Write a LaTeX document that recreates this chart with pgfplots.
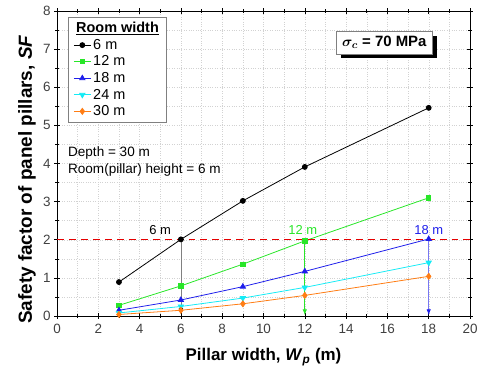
\documentclass[border=0pt]{standalone}
\usepackage{pgfplots}
\pgfplotsset{compat=1.18}
\usepackage{bm}
\usepackage{fontspec}
\setmainfont{Liberation Sans}
\usetikzlibrary{arrows.meta,shadows}
\definecolor{cgreen}{RGB}{40,230,40}
\definecolor{cblue}{RGB}{30,30,235}
\definecolor{ccyan}{RGB}{20,235,245}
\definecolor{corange}{RGB}{255,125,20}
\begin{document}
\begin{tikzpicture}
\begin{axis}[
  scale only axis, width=413bp, height=305bp,
  xmin=0, xmax=20, ymin=0, ymax=8,
  xtick={0,2,...,20}, ytick={0,1,...,8},
  minor x tick num=1, minor y tick num=1,
  tick align=center,
  major tick length=6pt, minor tick length=4pt,
  grid=both,
  major grid style={gray!35, dotted},
  minor grid style={gray!35, dotted},
  axis line style={line width=0.8pt},
  tick style={black, line width=0.6pt},
  /pgf/number format/assume math mode=true,
  ticklabel style={font=\fontsize{13.5}{15}\selectfont, text=black!75},
  xticklabel style={yshift=-2pt},
  xlabel={\textbf{Pillar width, \textit{W}\textsubscript{\textit{p}} (m)}},
  ylabel={\textbf{Safety factor of panel pillars, \textit{SF}}},
  xlabel style={font=\fontsize{17}{19}\selectfont, at={(axis description cs:0.5,-0.134)}, anchor=center},
  ylabel style={font=\fontsize{19}{21}\selectfont, at={(axis description cs:-0.0726,0.447)}, anchor=center},
  legend style={at={(0.027,0.98)}, anchor=north west, draw=gray, line width=0.6pt,
    font=\fontsize{14.5}{16}\selectfont, inner xsep=5pt, inner ysep=3pt, row sep=1pt},
  legend cell align=left,
  clip=false,
]
\addlegendimage{empty legend}
\addlegendentry{\hspace{-0.6cm}\textbf{\underline{Room width}}}
\addplot[black, thick, mark=*, mark size=2.5pt, mark options={solid}] coordinates {(3,0.89)(6,2.01)(9,3.02)(12,3.91)(18,5.46)};
\addlegendentry{6 m}
\addplot[cgreen, thick, mark=square*, mark size=2.2pt] coordinates {(3,0.28)(6,0.79)(9,1.36)(12,1.97)(18,3.1)};
\addlegendentry{12 m}
\addplot[cblue, thick, mark=triangle*, mark size=3pt] coordinates {(3,0.15)(6,0.42)(9,0.77)(12,1.17)(18,2.02)};
\addlegendentry{18 m}
\addplot[ccyan, thick, mark=triangle*, mark size=3pt, mark options={rotate=180}] coordinates {(3,0.08)(6,0.25)(9,0.47)(12,0.75)(18,1.4)};
\addlegendentry{24 m}
\addplot[corange, thick, mark=diamond*, mark size=3pt] coordinates {(3,0.04)(6,0.15)(9,0.32)(12,0.54)(18,1.04)};
\addlegendentry{30 m}
\addplot[red!90!black, line width=1.4pt, dash pattern=on 7pt off 5pt, forget plot] coordinates {(0,2)(20,2)};
\addplot[gray, line width=0.8pt, -{Latex[black,length=6pt,width=4.5pt]}, forget plot] coordinates {(6,2)(6,0.05)};
\addplot[cgreen, line width=0.8pt, -{Latex[length=6pt,width=4.5pt]}, forget plot] coordinates {(12,1.97)(12,0.02)};
\addplot[cblue!60, line width=0.8pt, -{Latex[cblue,length=6pt,width=4.5pt]}, forget plot] coordinates {(18,2.02)(18,0.02)};
\node[font=\fontsize{13}{14}\selectfont, anchor=center] at (axis cs:5.0,2.25) {6 m};
\node[font=\fontsize{13}{14}\selectfont, text=cgreen, anchor=center] at (axis cs:11.9,2.25) {12 m};
\node[font=\fontsize{13}{14}\selectfont, text=cblue, anchor=center] at (axis cs:18,2.25) {18 m};
\node[font=\fontsize{13.6}{17}\selectfont, anchor=north west, align=left, inner sep=0pt] at (axis cs:0.53,4.45) {Depth = 30 m\\Room(pillar) height = 6 m};
\node[draw=gray, fill=white, line width=0.6pt, font=\fontsize{15}{17}\selectfont\bfseries,
  drop shadow={shadow xshift=4.5pt, shadow yshift=-4.5pt, fill=black, opacity=1}, inner xsep=6pt, inner ysep=5pt]
  at (axis cs:15.85,7.17) {$\bm{\sigma}_{\bm{c}}$ = 70 MPa};
\path ([shift={(-57bp,-56bp)}]rel axis cs:0,0) rectangle ([shift={(13bp,11bp)}]rel axis cs:1,1);
\end{axis}
\end{tikzpicture}
\end{document}
